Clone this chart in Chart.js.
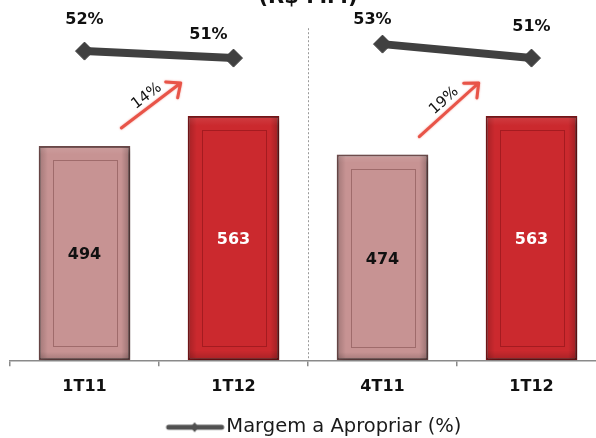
<!DOCTYPE html>
<html>
<head>
<meta charset="utf-8">
<script src="https://cdn.jsdelivr.net/npm/chart.js@4/dist/chart.umd.min.js"></script>
<style>
  html, body { margin: 0; padding: 0; background: #ffffff; }
  #wrap { position: relative; width: 596px; height: 438px; overflow: hidden; }
  #wrap canvas { position: absolute; left: 0; top: -30px; }
</style>
</head>
<body>
<div id="wrap"><canvas id="c" width="616" height="477" style="width:616px;height:477px"></canvas></div>
<script>
// Receita a apropriar (R$ MM) and margem a apropriar (%) per period
const categories = ['1T11', '1T12', '4T11', '1T12'];
const receita = [494, 563, 474, 563];
const margem = [52, 51, 53, 51];
// Pairs of periods compared side by side (first index, second index)
const comparisons = [[0, 1], [2, 3]];

// Nudges for the percentage labels above the margin markers (px)
const pctLabelDx = [0, -25, -10, 0];
const pctLabelDy = [-31, -23, -24, -31];

const FONT = 'DejaVu Sans';
const pink = '#c79393', pinkEdge = '#6e4a4a', pinkInner = 'rgba(110,60,60,0.45)';
const red = '#cb292e', redEdge = '#7a1518', redInner = 'rgba(120,10,15,0.45)';
const isLater = i => comparisons.some(p => p[1] === i);
const barFill = categories.map((_, i) => isLater(i) ? red : pink);
const barEdge = categories.map((_, i) => isLater(i) ? redEdge : pinkEdge);
const barInner = categories.map((_, i) => isLater(i) ? redInner : pinkInner);
const barText = categories.map((_, i) => isLater(i) ? '#ffffff' : '#111111');

// index after which the margin line is broken (end of each comparison group)
const groupEnds = comparisons.map(p => p[1]);

// legend symbol: thick line with a small diamond (drawn right of the box centre)
const legendIcon = document.createElement('canvas');
legendIcon.width = 80; legendIcon.height = 14;
(function () {
  const g = legendIcon.getContext('2d');
  g.strokeStyle = '#505050'; g.fillStyle = '#505050';
  g.lineWidth = 5; g.lineCap = 'round';
  g.beginPath(); g.moveTo(23, 7); g.lineTo(76, 7); g.stroke();
  g.beginPath(); g.moveTo(49, 2); g.lineTo(53, 7); g.lineTo(49, 12); g.lineTo(45, 7); g.closePath(); g.fill();
})();

const barDecor = {
  id: 'barDecor',
  beforeDatasetDraw(chart, args) {
    if (args.index !== 0) return;
    const ctx = chart.ctx;
    ctx.save();
    ctx.shadowColor = 'rgba(0,0,0,0.35)';
    ctx.shadowBlur = 6;
    ctx.shadowOffsetX = 3;
    ctx.shadowOffsetY = 2;
  },
  afterDatasetDraw(chart, args) {
    if (args.index !== 0) return;
    const ctx = chart.ctx;
    ctx.restore();
    args.meta.data.forEach((bar, i) => {
      const p = bar.getProps(['x', 'y', 'base', 'width'], true);
      const l = p.x - p.width / 2, r = p.x + p.width / 2, t = p.y, b = p.base;
      ctx.save();
      const g = ctx.createLinearGradient(l, 0, r, 0);
      g.addColorStop(0, 'rgba(0,0,0,0.20)');
      g.addColorStop(0.1, 'rgba(0,0,0,0)');
      g.addColorStop(0.9, 'rgba(0,0,0,0)');
      g.addColorStop(1, 'rgba(0,0,0,0.25)');
      ctx.fillStyle = g;
      ctx.fillRect(l + 1, t + 1, r - l - 2, b - t - 2);
      const gv = ctx.createLinearGradient(0, t, 0, b);
      gv.addColorStop(0, 'rgba(255,255,255,0.10)');
      gv.addColorStop(0.04, 'rgba(255,255,255,0)');
      gv.addColorStop(0.96, 'rgba(0,0,0,0)');
      gv.addColorStop(1, 'rgba(0,0,0,0.18)');
      ctx.fillStyle = gv;
      ctx.fillRect(l + 1, t + 1, r - l - 2, b - t - 2);
      ctx.strokeStyle = barInner[i];
      ctx.lineWidth = 1;
      ctx.strokeRect(Math.round(l + 14) + 0.5, Math.round(t + 14) + 0.5, Math.round(p.width - 28), Math.round(b - t - 28));
      // value label
      ctx.fillStyle = barText[i];
      ctx.font = 'bold 16px "' + FONT + '"';
      ctx.textAlign = 'center';
      ctx.textBaseline = 'middle';
      ctx.fillText(String(receita[i]), p.x, (t + b) / 2 + 2);
      ctx.restore();
    });
  }
};

const overlay = {
  id: 'overlay',
  beforeDatasetsDraw(chart) {
    // dotted separator between comparison groups
    const ctx = chart.ctx, xs = chart.scales.x, area = chart.chartArea;
    ctx.save();
    ctx.strokeStyle = '#9a9a9a';
    ctx.lineWidth = 1;
    ctx.setLineDash([2, 2]);
    comparisons.slice(0, -1).forEach(pair => {
      const sx = Math.round((xs.getPixelForValue(pair[1]) + xs.getPixelForValue(pair[1] + 1)) / 2) + 0.5;
      ctx.beginPath();
      ctx.moveTo(sx, area.top + 12);
      ctx.lineTo(sx, area.bottom);
      ctx.stroke();
    });
    ctx.restore();
  },
  afterDatasetsDraw(chart) {
    const ctx = chart.ctx;
    const bars = chart.getDatasetMeta(0).data;
    const pts = chart.getDatasetMeta(1).data;

    // growth arrows between compared bars
    comparisons.forEach(([a, b]) => {
      const A = bars[a].getProps(['x', 'y', 'width'], true);
      const B = bars[b].getProps(['x', 'y', 'width'], true);
      const x0 = A.x + A.width / 2 - 9, y0 = A.y - 18;
      const x1 = B.x - B.width / 2 - 7, y1 = B.y - 33;
      const ang = Math.atan2(y1 - y0, x1 - x0);
      ctx.save();
      ctx.strokeStyle = 'rgb(232,84,72)';
      ctx.lineWidth = 3;
      ctx.lineCap = 'round';
      ctx.lineJoin = 'round';
      ctx.shadowColor = 'rgba(232,84,72,0.6)';
      ctx.shadowBlur = 2;
      ctx.beginPath();
      ctx.moveTo(x0, y0); ctx.lineTo(x1, y1);
      const h = 15, spread = 0.72;
      ctx.moveTo(x1 - h * Math.cos(ang - spread), y1 - h * Math.sin(ang - spread));
      ctx.lineTo(x1, y1);
      ctx.lineTo(x1 - h * Math.cos(ang + spread), y1 - h * Math.sin(ang + spread));
      ctx.stroke();
      ctx.restore();

      const growth = Math.round((receita[b] / receita[a] - 1) * 100) + '%';
      const f = 0.53, off = 10;
      const mx = x0 + (x1 - x0) * f + Math.sin(ang) * off;
      const my = y0 + (y1 - y0) * f - Math.cos(ang) * off;
      ctx.save();
      ctx.translate(mx, my);
      ctx.rotate(ang);
      ctx.fillStyle = '#111111';
      ctx.font = '15px "' + FONT + '"';
      ctx.textAlign = 'center';
      ctx.textBaseline = 'middle';
      ctx.fillText(growth, 0, 0);
      ctx.restore();
    });

    // percentage labels above the margin markers
    ctx.save();
    ctx.fillStyle = '#111111';
    ctx.font = 'bold 16px "' + FONT + '"';
    ctx.textAlign = 'center';
    ctx.textBaseline = 'middle';
    pts.forEach((pt, i) => {
      ctx.fillText(margem[i] + '%', pt.x + pctLabelDx[i], pt.y + pctLabelDy[i]);
    });
    ctx.restore();
  }
};

new Chart(document.getElementById('c'), {
  data: {
    labels: categories,
    datasets: [
      {
        type: 'bar',
        label: 'Receita a Apropriar',
        data: receita,
        yAxisID: 'y',
        backgroundColor: barFill,
        borderColor: barEdge,
        borderWidth: 2,
        borderSkipped: false,
        categoryPercentage: 1,
        barPercentage: 0.615,
        order: 2
      },
      {
        type: 'line',
        label: 'Margem a Apropriar (%)',
        data: margem,
        yAxisID: 'y2',
        borderColor: '#404040',
        backgroundColor: '#404040',
        borderWidth: 8,
        pointStyle: 'rectRot',
        pointRadius: 9,
        pointBackgroundColor: '#404040',
        pointBorderColor: '#404040',
        pointBorderWidth: 1,
        tension: 0,
        clip: false,
        segment: {
          borderColor: c => groupEnds.includes(c.p0DataIndex) ? 'rgba(0,0,0,0)' : '#404040'
        },
        order: 1
      }
    ]
  },
  options: {
    responsive: false,
    animation: false,
    events: [],
    layout: { padding: { left: 8, right: 8, top: 0, bottom: 0 } },
    scales: {
      x: {
        offset: true,
        grid: { offset: true, drawOnChartArea: false, drawTicks: true, tickLength: 6, color: '#8a8a8a', lineWidth: 1.5 },
        border: { display: true, color: '#8a8a8a', width: 1.5 },
        ticks: { font: { family: FONT, size: 16, weight: 'bold' }, color: '#111111', padding: 11 }
      },
      y: { display: false, min: 0, max: 793 },
      y2: { display: false, position: 'right', min: 7.7, max: 57 }
    },
    plugins: {
      title: {
        display: true,
        text: '(R$ MM)',
        font: { family: FONT, size: 21, weight: 'bold' },
        color: '#111111',
        padding: { top: 15, bottom: 6 }
      },
      legend: {
        position: 'bottom',
        labels: {
          filter: item => item.datasetIndex === 1,
          usePointStyle: true,
          pointStyle: legendIcon,
          pointStyleWidth: 62,
          font: { family: FONT, size: 19.5 },
          color: '#1a1a1a',
          padding: 10
        }
      },
      tooltip: { enabled: false }
    }
  },
  plugins: [barDecor, overlay]
});
</script>
</body>
</html>
